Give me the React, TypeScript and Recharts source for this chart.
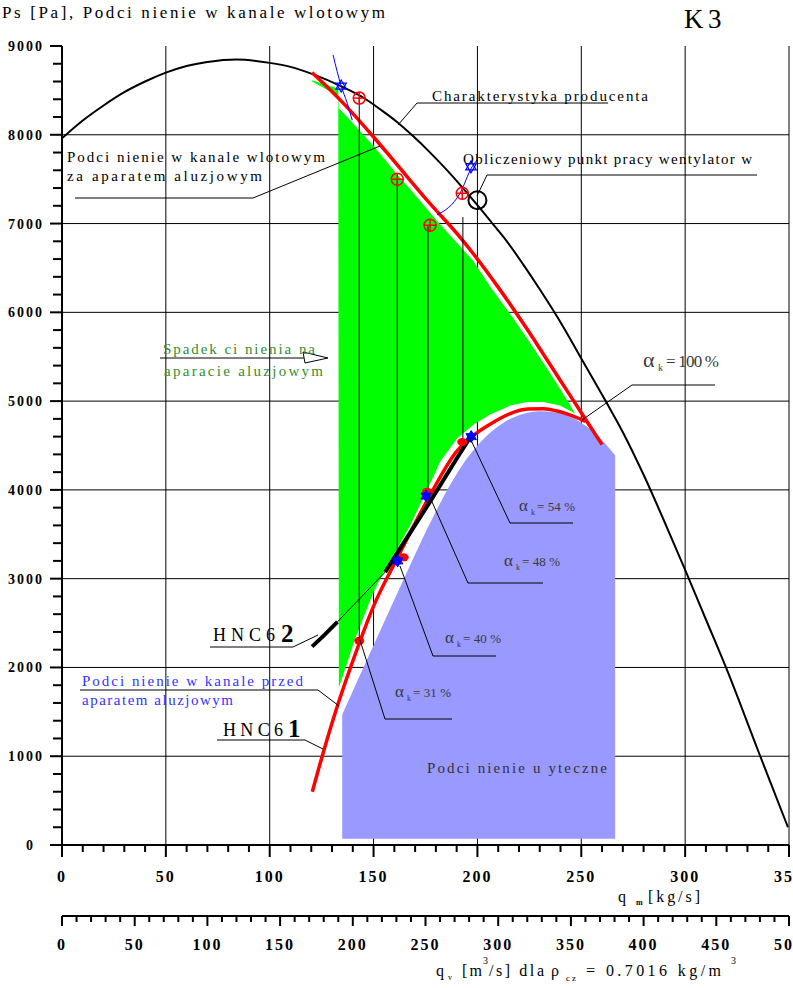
import React from 'react';
import {
  ComposedChart,
  Line,
  Area,
  Scatter,
  XAxis,
  YAxis,
  CartesianGrid,
  ReferenceLine,
} from 'recharts';

const SERIF = '"Liberation Serif", "DejaVu Serif", serif';

// ---- axes -------------------------------------------------------------
const qmMajor = [0, 50, 100, 150, 200, 250, 300, 350];
const qmTicks = Array.from({ length: 36 }, (_, i) => i * 10);
const qvMajor = [0, 50, 100, 150, 200, 250, 300, 350, 400, 450, 500];
const qvTicks = Array.from({ length: 51 }, (_, i) => i * 10);
const psMajor = [0, 1000, 2000, 3000, 4000, 5000, 6000, 7000, 8000, 9000];
const psTicks = Array.from({ length: 46 }, (_, i) => i * 200);
const qmGrid = [50, 100, 150, 200, 250, 300, 350];
const psGrid = [1000, 2000, 3000, 4000, 5000, 6000, 7000, 8000];

// ---- curves: [q kg/s, Ps Pa] -----------------------------------------
const producerCurve = [
  [0, 7960], [10, 8160], [20, 8330], [30, 8480], [40, 8600], [50, 8700],
  [60, 8775], [70, 8820], [84, 8848], [100, 8810], [110, 8765], [121, 8680],
  [135, 8540], [145, 8420], [153, 8290], [161, 8150], [169, 7985], [177, 7805],
  [185, 7610], [193, 7400], [201, 7180], [209, 6950], [214, 6805], [222, 6540],
  [230, 6260], [241, 5850], [250, 5480], [262, 4990], [270, 4650], [280, 4170],
  [291, 3590], [300, 3100], [310, 2540], [320, 1980], [335, 1070], [349.5, 200],
];

// suction behind the louvre damper (upper red)
const redUpper = [
  [120.4, 8700], [125.6, 8585], [134, 8390], [150, 7975], [161.4, 7660],
  [177, 7230], [191.7, 6845], [211, 6250], [224.2, 5800], [231.6, 5534],
  [240, 5230], [246, 5014], [250.4, 4855], [255.6, 4668], [260, 4510],
];

// HNC61 - suction before the damper (lower red)
const redLower = [
  [120.5, 600], [126, 1060], [132.5, 1560], [141.2, 2150], [149.8, 2680],
  [161.4, 3230], [175.8, 3880], [190.2, 4440], [197.9, 4610], [206.1, 4740],
  [215.8, 4860], [224.1, 4910], [231.8, 4915], [239.8, 4880], [246.1, 4830],
  [252, 4770],
];

// HNC62
const hnc62Left = [[120.4, 2235], [126.5, 2370], [132.6, 2513]];
const hnc62Mid = [[132.6, 2513], [155.6, 3074]];
const hnc62Right = [[155.6, 3074], [161.4, 3290], [177.3, 3870], [190.2, 4360], [197.9, 4642]];

// thin blue resistance parabolas
const resistA = [[130.5, 8900], [134.4, 8549], [137.3, 8357], [139.7, 8166]];
const resistB = [[180.6, 7098], [191.7, 7345], [197.4, 7638], [199.9, 7717]];

// pressure drop on the damper: [q, low, high]
const dampLoss = [
  [120.4, 8600, 8615], [133.0, 8440, 8520], [133.3, 1770, 8300],
  [137.8, 2090, 8190], [141.2, 2330, 8100], [149.8, 2840, 7880],
  [155.6, 3110, 7720], [161.4, 3340, 7550], [167.6, 3600, 7390],
  [175.8, 4000, 7160], [182.1, 4320, 6990], [190.2, 4580, 6780],
  [197.9, 4730, 6580], [206.1, 4850, 6290], [215.8, 4950, 5980],
  [224.1, 4990, 5700], [231.8, 4990, 5430], [239.8, 4950, 5140],
  [247.0, 4860, 4860],
];

// useful suction (blue region), top edge
const usefulFloor = 70;
const usefulTop = [
  [134.9, 1470], [142, 1840], [150, 2250], [158, 2660], [167.6, 3150],
  [176, 3570], [186, 4020], [193, 4290], [200, 4500], [208, 4680],
  [215, 4790], [222, 4855], [230, 4885], [237, 4875], [244, 4830],
  [252.8, 4710], [260, 4560], [266.3, 4390],
];

// markers
const crossMarks = [[143.1, 8413], [161.4, 7499], [177.2, 6981], [192.7, 7341]];
const openStars = [[134.4, 8549], [196.9, 7638]];
const designPoint = [[200, 7263]];
const alphaRed = [[143.1, 2300], [164.5, 3240], [175.8, 3980], [192.7, 4540]];
const alphaBlue = [[161.6, 3200], [175.3, 3930], [197, 4600]];

// vertical links: [q, top Ps, bottom Ps]
const dropLines = [[143.1, 8413, 2300], [161.4, 7499, 3230], [176.2, 6981, 3950], [193, 7073, 4540]];

// -----------------------------------------------------------------------
const pts = (rows: number[][]) => rows.map(([q, p]) => ({ q, p }));
const band = (rows: number[][]) => rows.map(([q, lo, hi]) => ({ q, range: [lo, hi] }));

const hGen = (ctx: any) =>
  psGrid.map((v) => {
    const s = ctx?.yAxis?.scale;
    if (typeof s === 'function') {
      const r = s(v);
      if (Number.isFinite(r)) return r;
    }
    return ctx.offset.top + ctx.offset.height * (1 - v / 9000);
  });
const vGen = (ctx: any) =>
  qmGrid.map((v) => {
    const s = ctx?.xAxis?.scale;
    if (typeof s === 'function') {
      const r = s(v);
      if (Number.isFinite(r)) return r;
    }
    return ctx.offset.left + (ctx.offset.width * v) / 350;
  });

const PsTick = ({ x, y, payload }: any) => {
  const v = payload.value as number;
  const major = psMajor.includes(v);
  return (
    <g>
      <line x1={x - (major ? 12 : 9)} y1={y} x2={x} y2={y} stroke="#000" strokeWidth={2} />
      {major && (
        <text x={v === 0 ? x - 27 : x - 18} y={y + 5} textAnchor="end" fontFamily={SERIF}
          fontSize={14} fontWeight="bold" letterSpacing={2}>{v}</text>
      )}
    </g>
  );
};

const QmTick = ({ x, y, payload }: any) => {
  const v = payload.value as number;
  const major = qmMajor.includes(v);
  return (
    <g>
      <line x1={x} y1={y} x2={x} y2={y + (major ? 12 : 7)} stroke="#000" strokeWidth={2} />
      {major && (
        <text x={x} y={y + 37} textAnchor="middle" fontFamily={SERIF} fontSize={16}
          fontWeight="bold" letterSpacing={2}>{v}</text>
      )}
    </g>
  );
};

const QvTick = ({ x, y, payload }: any) => {
  const v = payload.value as number;
  const major = qvMajor.includes(v);
  return (
    <g>
      <line x1={x} y1={y} x2={x} y2={y + (major ? 10 : 6)} stroke="#000" strokeWidth={2} />
      {major && (
        <text x={x} y={y + 34} textAnchor="middle" fontFamily={SERIF} fontSize={16}
          fontWeight="bold" letterSpacing={2}>{v}</text>
      )}
    </g>
  );
};

const CrossCircle = ({ cx, cy }: any) => (
  <g stroke="#f00" strokeWidth={1.5} fill="none">
    <circle cx={cx} cy={cy} r={6} />
    <line x1={cx - 6} y1={cy} x2={cx + 6} y2={cy} />
    <line x1={cx} y1={cy - 6} x2={cx} y2={cy + 6} />
  </g>
);

const tri = (cx: number, cy: number, r: number, rot: number) =>
  [0, 120, 240]
    .map((a) => {
      const t = ((a + rot) * Math.PI) / 180;
      return `${cx + r * Math.cos(t)},${cy + r * Math.sin(t)}`;
    })
    .join(' ');

const OpenStar = ({ cx, cy }: any) => (
  <g stroke="#00f" strokeWidth={1.2} fill="none">
    <polygon points={tri(cx, cy, 6, -90)} />
    <polygon points={tri(cx, cy, 6, 90)} />
  </g>
);

const FilledStar = ({ cx, cy }: any) => (
  <g fill="#00f" stroke="#00f" strokeWidth={1}>
    <polygon points={tri(cx, cy, 6, -90)} />
    <polygon points={tri(cx, cy, 6, 90)} />
  </g>
);

const RedDot = ({ cx, cy }: any) => <ellipse cx={cx} cy={cy} rx={5} ry={4} fill="#f00" />;

const DesignCircle = ({ cx, cy }: any) => (
  <circle cx={cx} cy={cy} r={9} fill="none" stroke="#000" strokeWidth={2} />
);

const Alpha = ({ x, y, pct, big }: any) => (
  <g fill="#3a3a3a" fontFamily={SERIF}>
    <text x={x} y={y} fontSize={big ? 22 : 17}>α</text>
    <text x={x + (big ? 15 : 12)} y={y + 4} fontSize={big ? 10 : 8}>k</text>
    <text x={x + (big ? 23 : 18)} y={y} fontSize={big ? 17 : 13} textLength={big ? 53 : 38}
      lengthAdjust="spacing">{`= ${pct} %`}</text>
  </g>
);

const Overlay = () => (
  <svg width={793} height={988} fontFamily={SERIF}
    style={{ position: 'absolute', left: 0, top: 0, pointerEvents: 'none' }}>
    <text x={2} y={18} fontSize={17} textLength={383} lengthAdjust="spacing">
      Ps [Pa], Podci nienie w kanale wlotowym
    </text>
    <text x={684} y={28} fontSize={27}>K</text>
    <text x={708} y={28} fontSize={27}>3</text>

    <g fill="none" stroke="#000" strokeWidth={1}>
      <polyline points="398,125 417,103 608,103" />
      <polyline points="477,196 487,175 757,175" />
      <polyline points="75,198 253,198 380,146" />
      <line x1={160} y1={358} x2={304} y2={358} />
      <polyline points="582,420 632,385 715,385" />
      <polyline points="470,438 510,523 573,523" />
      <polyline points="429,495 468,583 543,583" />
      <polyline points="400,566 433,656 496,656" />
      <polyline points="359,637 385,719 452,719" />
      <polyline points="210,647 293,647 318,635" />
      <polyline points="80,690 318,690 339,706" />
      <polyline points="217,740 305,740 323,749" />
    </g>
    <polygon points="303,352 328,358 305,363" fill="#fff" stroke="#000" strokeWidth={1} />

    <text x={432} y={101} fontSize={15} textLength={216} lengthAdjust="spacing">Charakterystyka producenta</text>
    <text x={463} y={164} fontSize={15} textLength={289} lengthAdjust="spacing">Obliczeniowy punkt pracy wentylator w</text>
    <text x={67} y={162} fontSize={15} textLength={258} lengthAdjust="spacing">Podci nienie w kanale wlotowym</text>
    <text x={67} y={181} fontSize={15} textLength={195} lengthAdjust="spacing">za aparatem  aluzjowym</text>

    <g fill="#2f8f2f">
      <text x={163} y={354} fontSize={15} textLength={152} lengthAdjust="spacing">Spadek ci nienia na</text>
      <text x={164} y={376} fontSize={15} textLength={159} lengthAdjust="spacing">aparacie  aluzjowym</text>
    </g>

    <g fill="#3333ff">
      <text x={82} y={686} fontSize={15} textLength={221} lengthAdjust="spacing">Podci nienie w kanale przed</text>
      <text x={82} y={705} fontSize={15} textLength={151} lengthAdjust="spacing">aparatem  aluzjowym</text>
    </g>

    <text x={427} y={773} fontSize={15} fill="#333" textLength={180} lengthAdjust="spacing">Podci nienie u yteczne</text>

    <text x={213} y={641} fontSize={18} textLength={62} lengthAdjust="spacing">HNC6</text>
    <text x={281} y={642} fontSize={25} fontWeight="bold">2</text>
    <text x={223} y={736} fontSize={18} textLength={60} lengthAdjust="spacing">HNC6</text>
    <text x={288} y={737} fontSize={25} fontWeight="bold">1</text>

    <Alpha x={643} y={367} pct="100" big />
    <Alpha x={519} y={511} pct="54" />
    <Alpha x={504} y={566} pct="48" />
    <Alpha x={445} y={643} pct="40" />
    <Alpha x={395} y={697} pct="31" />

    <text x={618} y={902} fontSize={16}>q</text>
    <text x={636} y={905} fontSize={8} fontWeight="bold">m</text>
    <text x={648} y={902} fontSize={16} textLength={52} lengthAdjust="spacing">[kg/s]</text>

    <text x={436} y={976} fontSize={16}>q</text>
    <text x={448} y={980} fontSize={8}>v</text>
    <text x={462} y={976} fontSize={16} textLength={20} lengthAdjust="spacing">[m</text>
    <text x={483} y={964} fontSize={10}>3</text>
    <text x={489} y={976} fontSize={16} textLength={55} lengthAdjust="spacing">/s] dla</text>
    <text x={551} y={976} fontSize={16}>ρ</text>
    <text x={566} y={981} fontSize={9} textLength={10} lengthAdjust="spacing">cz</text>
    <text x={586} y={976} fontSize={16} textLength={135} lengthAdjust="spacing">= 0.7016 kg/m</text>
    <text x={731} y={964} fontSize={10}>3</text>
  </svg>
);

export default function App() {
  return (
    <div style={{ position: 'absolute', left: 0, top: 0, width: 793, height: 988, background: '#fff' }}>
      <ComposedChart width={793} height={988} margin={{ top: 46, right: 4, bottom: 0, left: 0 }}>
        <CartesianGrid stroke="#000" strokeWidth={1}
          horizontalCoordinatesGenerator={hGen} verticalCoordinatesGenerator={vGen} />
        <XAxis dataKey="q" type="number" domain={[0, 350]} ticks={qmTicks} interval={0}
          height={71} tickSize={0} tickMargin={0} tickLine={false} tick={<QmTick />}
          axisLine={{ stroke: '#000', strokeWidth: 2 }} allowDataOverflow />
        <XAxis xAxisId="qv" dataKey="q" type="number" domain={[0, 500]} ticks={qvTicks} interval={0}
          height={72} tickSize={0} tickMargin={0} tickLine={false} tick={<QvTick />}
          axisLine={{ stroke: '#000', strokeWidth: 2 }} allowDataOverflow />
        <YAxis type="number" domain={[0, 9000]} ticks={psTicks} interval={0} width={62}
          tickSize={0} tickMargin={0} tickLine={false} tick={<PsTick />}
          axisLine={{ stroke: '#000', strokeWidth: 2 }} allowDataOverflow />

        <Area data={band(dampLoss)} dataKey="range" type="linear" fill="#00ff00" fillOpacity={1}
          stroke="none" isAnimationActive={false} />
        <Area data={usefulTop.map(([q, p]) => ({ q, range: [usefulFloor, p] }))} dataKey="range"
          type="monotone" fill="#9999ff" fillOpacity={1} stroke="none" isAnimationActive={false} />

        <Line data={pts(producerCurve)} dataKey="p" type="monotone" stroke="#000" strokeWidth={2}
          dot={false} isAnimationActive={false} />
        <Line data={pts(redUpper)} dataKey="p" type="monotone" stroke="#f00" strokeWidth={3.5}
          dot={false} isAnimationActive={false} />
        <Line data={pts(redLower)} dataKey="p" type="monotone" stroke="#f00" strokeWidth={3.5}
          dot={false} isAnimationActive={false} />
        <Line data={pts(hnc62Left)} dataKey="p" type="linear" stroke="#000" strokeWidth={4}
          dot={false} isAnimationActive={false} />
        <Line data={pts(hnc62Mid)} dataKey="p" type="linear" stroke="#000" strokeWidth={1}
          dot={false} isAnimationActive={false} />
        <Line data={pts(hnc62Right)} dataKey="p" type="linear" stroke="#000" strokeWidth={4}
          dot={false} isAnimationActive={false} />
        <Line data={pts(resistA)} dataKey="p" type="monotone" stroke="#00f" strokeWidth={1}
          dot={false} isAnimationActive={false} />
        <Line data={pts(resistB)} dataKey="p" type="monotone" stroke="#00f" strokeWidth={1}
          dot={false} isAnimationActive={false} />

        {dropLines.map(([q, top, bottom], i) => (
          <ReferenceLine key={`drop-${i}`} segment={[{ x: q, y: top }, { x: q, y: bottom }]}
            stroke="#000" strokeWidth={1} />
        ))}

        <Scatter data={pts(crossMarks)} dataKey="p" shape={<CrossCircle />} isAnimationActive={false} />
        <Scatter data={pts(openStars)} dataKey="p" shape={<OpenStar />} isAnimationActive={false} />
        <Scatter data={pts(designPoint)} dataKey="p" shape={<DesignCircle />} isAnimationActive={false} />
        <Scatter data={pts(alphaRed)} dataKey="p" shape={<RedDot />} isAnimationActive={false} />
        <Scatter data={pts(alphaBlue)} dataKey="p" shape={<FilledStar />} isAnimationActive={false} />
      </ComposedChart>
      <Overlay />
    </div>
  );
}
